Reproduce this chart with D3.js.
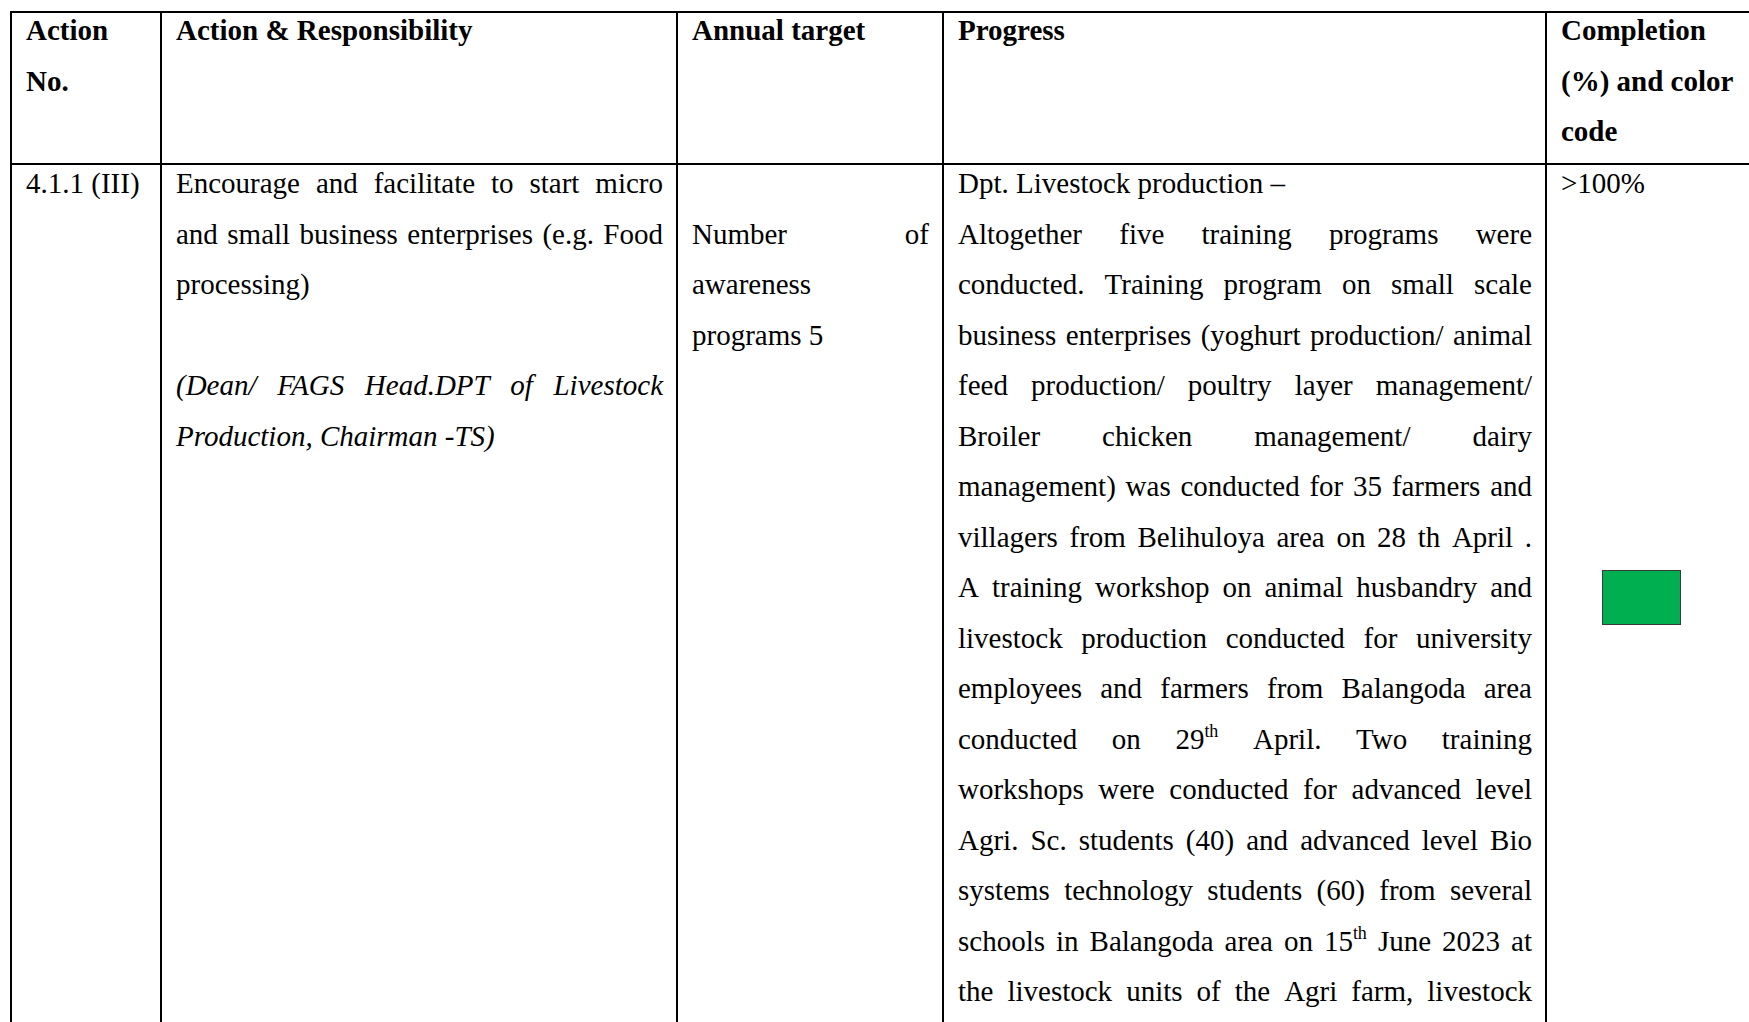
<!DOCTYPE html>
<html><head><meta charset="utf-8">
<script src="https://cdn.jsdelivr.net/npm/d3@7"></script>
<style>html,body{margin:0;padding:0;background:#fff;overflow:hidden}</style>
</head><body>
<svg id="chart" width="1749" height="1022"></svg>
<script>
// ---------------- DATA ----------------
const headerCol0 = ["Action", "No."];
const headerCol1 = ["Action & Responsibility"];
const headerCol2 = ["Annual target"];
const headerCol3 = ["Progress"];
const headerCol4 = ["Completion", "(%) and color", "code"];

const actionNoLines = ["4.1.1 (III)"];
const actionLines = [
  "Encourage and facilitate to start micro",
  "and small business enterprises (e.g. Food",
  "processing)",
  "",
  "(Dean/ FAGS Head.DPT of Livestock",
  "Production, Chairman -TS)"
];
const targetLines = ["", "Number of", "awareness", "programs 5"];
const progressLines = [
  "Dpt. Livestock production \u2013",
  "Altogether five training programs were",
  "conducted. Training program on small scale",
  "business enterprises (yoghurt production/ animal",
  "feed production/ poultry layer management/",
  "Broiler chicken management/ dairy",
  "management) was conducted for 35 farmers and",
  "villagers from Belihuloya area on 28 th April .",
  "A training workshop on animal husbandry and",
  "livestock production conducted for university",
  "employees and farmers from Balangoda area",
  "conducted on 29^th April. Two training",
  "workshops were conducted for advanced level",
  "Agri. Sc. students (40) and advanced level Bio",
  "systems technology students (60) from several",
  "schools in Balangoda area on 15^th June 2023 at",
  "the livestock units of the Agri farm, livestock"
];
const completionLabels = [">100%"];
const completionValues = [105];
const completionThresholds = [50, 75];
const completionColors = ["#FF0000", "#FFC000", "#00B050"];

// ---------------- LAYOUT / STYLE ----------------
const W = 1749, H = 1022;
const colEdges = [11, 161, 677, 943, 1546, 1800];
const padL = 15, padR = 14;
const headerTop = 12, headerBottom = 164;
const fontSize = 29;
const headerY = d3.scaleLinear().domain([0, 1]).range([40, 90.5]);
const bodyY = d3.scaleLinear().domain([0, 1]).range([193, 243.5]);
const justifyAction = [1, 1, 0, 0, 1, 0];
const italicAction = [0, 0, 0, 0, 1, 1];
const justifyTarget = [0, 1, 0, 0];
const justifyProgress = [0, 1, 1, 1, 1, 1, 1, 1, 1, 1, 1, 1, 1, 1, 1, 1, 1];

const colorScale = d3.scaleThreshold().domain(completionThresholds).range(completionColors);

const svg = d3.select("#chart");
svg.append("rect").attr("width", W).attr("height", H).attr("fill", "#fff");

const textLayer = svg.append("g")
  .attr("font-family", "'Liberation Serif', 'Times New Roman', serif")
  .attr("font-size", fontSize)
  .attr("fill", "#000");

function drawWord(g, word, x, y, opts) {
  const t = g.append("text").attr("x", x).attr("y", y);
  if (opts.bold) t.attr("font-weight", "bold");
  if (opts.italic) t.attr("font-style", "italic");
  const parts = word.split("^");
  t.append("tspan").text(parts[0]);
  if (parts.length > 1) {
    t.append("tspan").attr("font-size", fontSize * 0.62).attr("dy", -fontSize * 0.38).text(parts[1]);
  }
  return t;
}

function drawCell(lines, col, yScale, opts) {
  const left = colEdges[col] + padL;
  const right = colEdges[col + 1] - padR;
  const g = textLayer.append("g");
  lines.forEach((line, i) => {
    if (!line) return;
    const y = yScale(i);
    const just = opts.justify ? opts.justify[i] : 0;
    const ital = opts.italic ? opts.italic[i] : 0;
    const o = { bold: opts.bold, italic: ital };
    const words = line.split(" ");
    if (!just || words.length < 2) {
      drawWord(g, line.replace(/\s+/g, " "), left, y, o);
      return;
    }
    const nodes = words.map(w => drawWord(g, w, left, y, o));
    const widths = nodes.map(n => n.node().getComputedTextLength());
    const total = d3.sum(widths);
    const gap = (right - left - total) / (words.length - 1);
    let x = left;
    nodes.forEach((n, k) => {
      n.attr("x", x);
      x += widths[k] + gap;
    });
  });
}

// header
drawCell(headerCol0, 0, headerY, { bold: true });
drawCell(headerCol1, 1, headerY, { bold: true });
drawCell(headerCol2, 2, headerY, { bold: true });
drawCell(headerCol3, 3, headerY, { bold: true });
drawCell(headerCol4, 4, headerY, { bold: true });

// body
drawCell(actionNoLines, 0, bodyY, {});
drawCell(actionLines, 1, bodyY, { justify: justifyAction, italic: italicAction });
drawCell(targetLines, 2, bodyY, { justify: justifyTarget });
drawCell(progressLines, 3, bodyY, { justify: justifyProgress });
drawCell(completionLabels, 4, bodyY, {});

// colour code box
svg.selectAll("rect.code").data(completionValues).enter().append("rect")
  .attr("class", "code")
  .attr("x", 1602.5).attr("y", 570.5).attr("width", 78).attr("height", 54)
  .attr("fill", d => colorScale(d))
  .attr("stroke", "#3a3a3a").attr("stroke-width", 1);

// grid lines
const grid = svg.append("g").attr("stroke", "#000").attr("stroke-width", 2).attr("shape-rendering", "crispEdges");
grid.append("line").attr("x1", colEdges[0] - 1).attr("x2", W).attr("y1", headerTop).attr("y2", headerTop);
grid.append("line").attr("x1", colEdges[0] - 1).attr("x2", W).attr("y1", headerBottom).attr("y2", headerBottom);
grid.selectAll("line.v").data(colEdges.slice(0, 5)).enter().append("line")
  .attr("class", "v")
  .attr("x1", d => d).attr("x2", d => d)
  .attr("y1", headerTop - 1).attr("y2", H);
</script>
</body></html>
